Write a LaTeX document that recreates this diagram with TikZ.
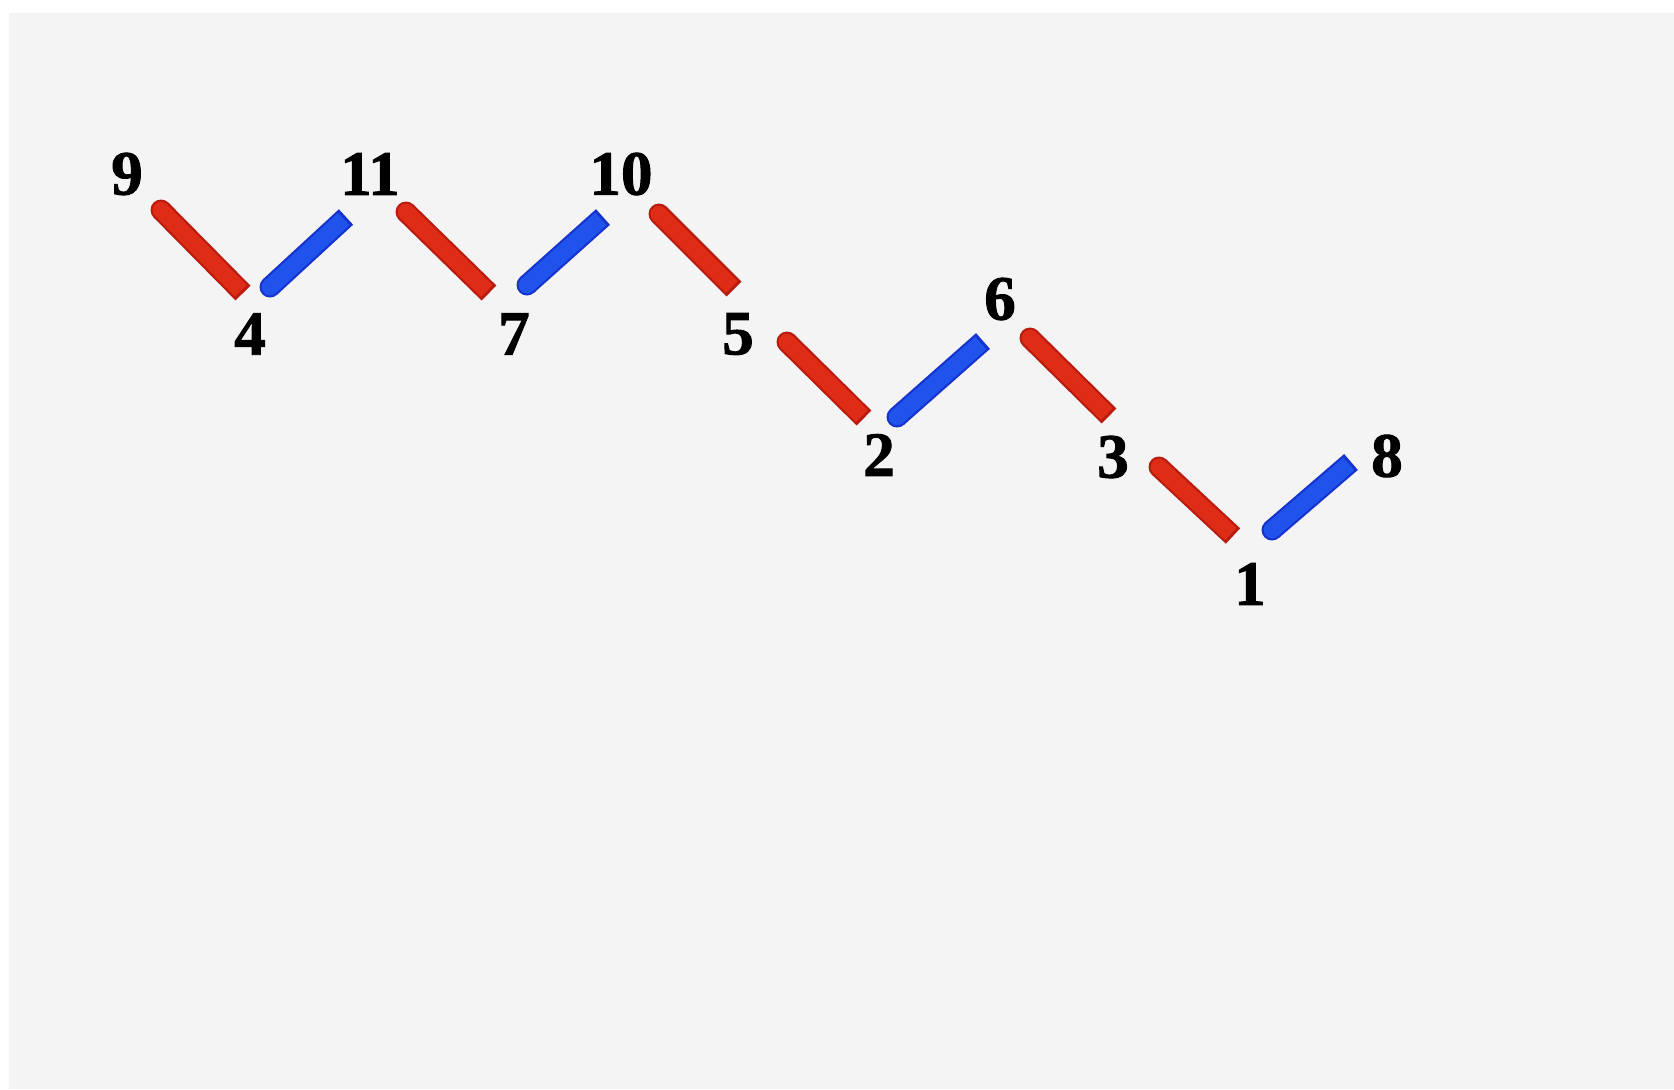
\documentclass[tikz,border=0pt]{standalone}
\usepackage{fontspec}
\setmainfont{Liberation Serif}
\newfontfamily\numfont{Liberation Serif Bold}[FakeBold=1.5]
\definecolor{paper}{RGB}{244,244,244}
\definecolor{rededge}{RGB}{185,28,14}
\definecolor{redink}{RGB}{222,44,22}
\definecolor{blueedge}{RGB}{22,52,205}
\definecolor{blueink}{RGB}{32,82,236}
\tikzset{
  lbl/.style={inner sep=0pt, font=\numfont\fontsize{31.5}{31.5}\selectfont},
}
% marker stroke: rounded at the first end, cut at the second
\newcommand{\markerline}[4]{%
  \draw[#3, line width=10.5pt, line cap=butt, line join=round] (#1) -- (#2);
  \fill[#3] (#1) circle[radius=10.5];
  \draw[#4, line width=8.3pt, line cap=butt, shorten >=1.5] (#1) -- (#2);
  \fill[#4] (#1) circle[radius=8.3];
}
\begin{document}
\begin{tikzpicture}[x=0.5pt, y=-0.5pt]
\useasboundingbox (0,0) rectangle (1674,1089);
\fill[white] (0,0) rectangle (1674,1089);
\fill[paper] (9,13) rectangle (1674,1089);

% stroke end points
\coordinate (r1a) at (161,210); \coordinate (r1b) at (243,293);
\coordinate (b1a) at (270,287); \coordinate (b1b) at (346,217);
\coordinate (r2a) at (406,212); \coordinate (r2b) at (489,293);
\coordinate (b2a) at (527,285); \coordinate (b2b) at (603,217);
\coordinate (r3a) at (659,214); \coordinate (r3b) at (734,289);
\coordinate (r4a) at (787,342); \coordinate (r4b) at (864,418);
\coordinate (b3a) at (897,417); \coordinate (b3b) at (983,341);
\coordinate (r5a) at (1030,338); \coordinate (r5b) at (1109,416);
\coordinate (r6a) at (1159,467); \coordinate (r6b) at (1233,536);
\coordinate (b4a) at (1272,530); \coordinate (b4b) at (1351,462);

\markerline{r1a}{r1b}{rededge}{redink}
\markerline{b1a}{b1b}{blueedge}{blueink}
\markerline{r2a}{r2b}{rededge}{redink}
\markerline{b2a}{b2b}{blueedge}{blueink}
\markerline{r3a}{r3b}{rededge}{redink}
\markerline{r4a}{r4b}{rededge}{redink}
\markerline{b3a}{b3b}{blueedge}{blueink}
\markerline{r5a}{r5b}{rededge}{redink}
\markerline{r6a}{r6b}{rededge}{redink}
\markerline{b4a}{b4b}{blueedge}{blueink}

% position numbers
\node[lbl] (n9)  at (127,174)  {9};
\node[lbl] (n11) at (370,174)  {11};
\node[lbl] (n10) at (621,174)  {10};
\node[lbl] (n4)  at (250,334)  {4};
\node[lbl] (n7)  at (514,334)  {7};
\node[lbl] (n5)  at (738,334)  {5};
\node[lbl] (n6)  at (1000,299) {6};
\node[lbl] (n2)  at (879,455)  {2};
\node[lbl] (n3)  at (1113,457) {3};
\node[lbl] (n8)  at (1387,456) {8};
\node[lbl] (n1)  at (1250,584) {1};
\end{tikzpicture}
\end{document}
